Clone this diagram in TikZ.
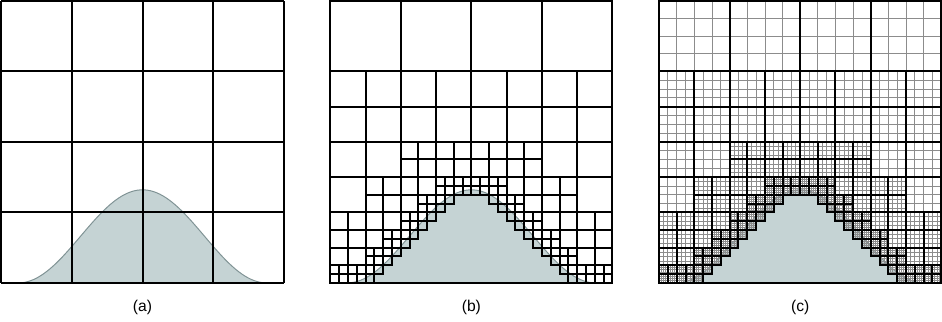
\documentclass[tikz,border=0pt]{standalone}
\usepackage{fontspec}
\setmainfont{Liberation Sans}
\usepackage{tikz}
\definecolor{solidfill}{RGB}{197,211,212}
\definecolor{solidedge}{RGB}{128,147,149}
\definecolor{gridgray}{RGB}{140,140,140}
\tikzset{
  blockline/.style={line width=0.8pt, black},
  finegrid/.style={line width=0.3pt, gridgray},
}
\pgfmathdeclarefunction{bump}{1}{%
  \pgfmathparse{abs(#1-2)<1.76 ? 0.66*(1+cos(180*(#1-2)/1.76)) : 0}}
\newif\ifthinpass
\def\qth{0.125}
\newcommand\qtleaf[3]{%
  \ifthinpass
    \foreach \k in {1,2,3} {
      \draw[finegrid] ({#1+\k*#3/4},#2) -- ++(0,#3);
      \draw[finegrid] (#1,{#2+\k*#3/4}) -- ++(#3,0);
    }
  \else
    \draw[blockline] (#1,#2) rectangle ++(#3,#3);
  \fi}
\newcommand\qtcell[3]{%
  \begingroup
  \pgfmathsetmacro\qtm{max(#3-2*\qth,0)}%
  \pgfmathsetmacro\qta{#1-\qtm}\pgfmathsetmacro\qtb{#1+#3+\qtm}%
  \pgfmathsetmacro\qtfmax{bump(min(max(2,\qta),\qtb))}%
  \pgfmathsetmacro\qtfmin{min(bump(#1),bump(#1+#3))}%
  \pgfmathparse{#2+#3<=\qtfmin ? 1 : 0}%
  \ifnum\pgfmathresult=0
    \pgfmathparse{and(#3>\qth+0.001, #2-\qtm-0.01<\qtfmax)}%
    \ifnum\pgfmathresult=1
      \pgfmathsetmacro\qtk{#3/2}%
      \pgfmathsetmacro\qtxm{#1+\qtk}\pgfmathsetmacro\qtym{#2+\qtk}%
      \edef\qtnext{\noexpand\qtcell{#1}{#2}{\qtk}\noexpand\qtcell{\qtxm}{#2}{\qtk}%
        \noexpand\qtcell{#1}{\qtym}{\qtk}\noexpand\qtcell{\qtxm}{\qtym}{\qtk}}%
      \qtnext
    \else
      \qtleaf{#1}{#2}{#3}%
    \fi
  \fi
  \endgroup}
\newcommand\qtroot{\foreach \i in {0,...,3} {\foreach \j in {0,...,3} {\qtcell{\i}{\j}{1}}}}

\begin{document}
\begin{tikzpicture}[every node/.style={font=\fontsize{6.3}{7.5}\selectfont}]
  \useasboundingbox (-0.02,-0.55) rectangle (13.33,4.01);
  \foreach \p in {0,4.66,9.32} {
    \begin{scope}[xshift=\p cm]
      \fill[solidfill] plot[domain=0.24:3.76, samples=80, smooth] (\x,{bump(\x)}) -- cycle;
      \draw[solidedge, line width=0.4pt] plot[domain=0.24:3.76, samples=80, smooth] (\x,{bump(\x)});
    \end{scope}
  }
  % (a) uniform grid
  \draw[blockline] (0,0) grid (4,4);
  % (b) balanced quadtree
  \begin{scope}[xshift=4.66cm]
    \thinpassfalse \qtroot
    \draw[blockline] (0,0) rectangle (4,4);
  \end{scope}
  % (c) blocks of 4x4 cells
  \begin{scope}[xshift=9.32cm]
    \thinpasstrue \qtroot
    \thinpassfalse \qtroot
    \draw[blockline] (0,0) rectangle (4,4);
  \end{scope}
  \node (capa) at (2,-0.354) {(a)};
  \node (capb) at (6.66,-0.354) {(b)};
  \node (capc) at (11.32,-0.354) {(c)};
\end{tikzpicture}
\end{document}
